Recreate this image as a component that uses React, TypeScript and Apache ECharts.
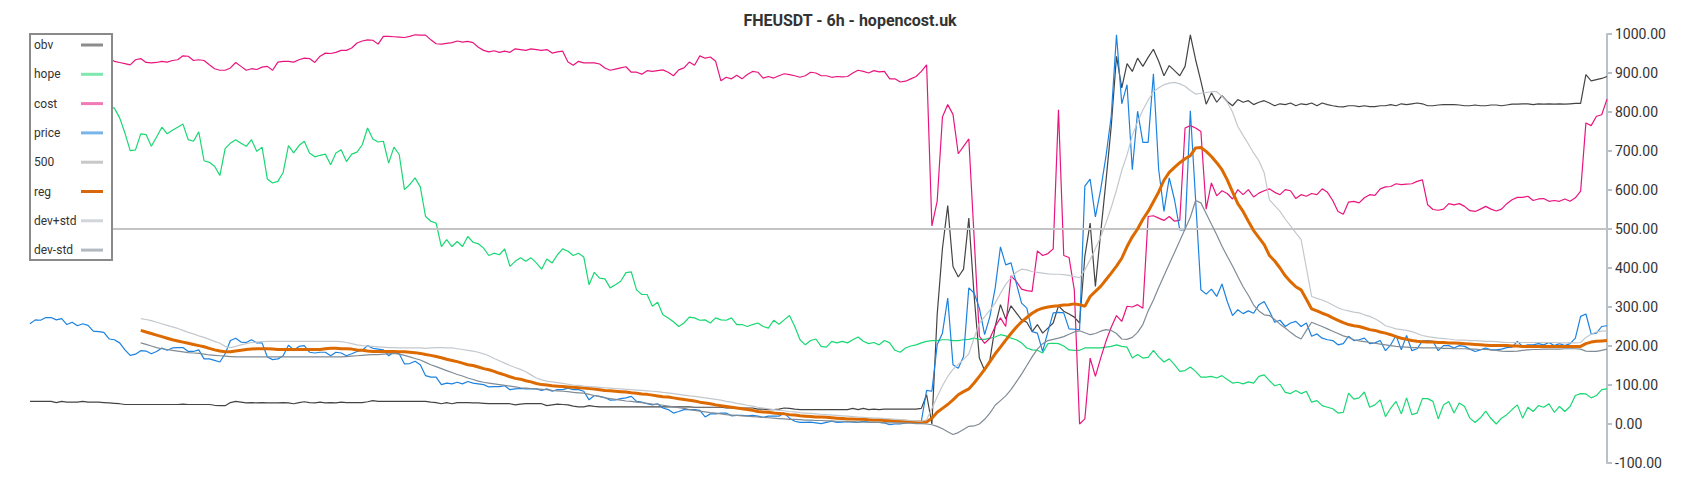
import React, { useEffect, useRef } from "react";
import * as echarts from "echarts";

const TITLE = "FHEUSDT - 6h - hopencost.uk";
const seriesNames = ["obv", "hope", "cost", "price", "500", "reg", "dev+std", "dev-std"];
const yTicks = { min: -100, max: 1000, interval: 100 };
const LEVEL = 500;

const price = [
  257, 267, 266, 273, 273, 267, 270, 255, 261, 252,
  257, 253, 238, 237, 235, 218, 216, 208, 190, 176,
  179, 188, 187, 180, 186, 195, 189, 195, 196, 196,
  186, 186, 190, 167, 167, 163, 159, 180, 214, 220,
  210, 209, 216, 208, 208, 172, 165, 167, 175, 202,
  190, 199, 201, 184, 182, 184, 184, 175, 184, 182,
  175, 180, 186, 189, 201, 194, 192, 190, 175, 184,
  180, 154, 155, 161, 152, 124, 120, 120, 101, 105,
  103, 107, 103, 109, 105, 103, 101, 95, 96, 96,
  98, 88, 90, 91, 90, 90, 90, 86, 90, 84,
  88, 88, 92, 88, 88, 84, 62, 73, 71, 68,
  61, 62, 65, 67, 71, 58, 56, 52, 49, 52,
  41, 37, 28, 32, 37, 37, 37, 35, 18, 26,
  26, 28, 28, 21, 22, 22, 21, 22, 20, 17,
  20, 20, 20, 28, 15, 7, 4, 4, 5, 3,
  1, 4, 7, 4, 5, 6, 5, 4, 7, 5,
  4, 4, 3, -2, 0, 0, 3, 4, 5, 7,
  86, 84, 203, 233, 323, 152, 143, 173, 349, 336,
  297, 229, 276, 349, 454, 408, 413, 361, 310, 297,
  237, 233, 186, 237, 285, 286, 285, 244, 243, 242,
  610, 628, 531, 601, 686, 789, 998, 821, 870, 652,
  802, 722, 722, 898, 652, 545, 631, 575, 498, 498,
  803, 575, 344, 333, 346, 327, 359, 314, 278, 293,
  283, 290, 284, 306, 314, 289, 261, 266, 250, 259,
  263, 250, 259, 225, 231, 220, 216, 214, 203, 206,
  225, 214, 216, 220, 206, 208, 214, 188, 203, 227,
  190, 227, 188, 193, 213, 214, 212, 188, 201, 201,
  195, 201, 199, 192, 186, 190, 195, 190, 190, 192,
  196, 197, 212, 199, 203, 203, 206, 203, 209, 201,
  206, 201, 206, 220, 276, 282, 231, 233, 250, 252,
];

const cost = [
  950, 946, 942, 944, 938, 942, 946, 940, 936, 940,
  944, 938, 934, 938, 942, 938, 930, 927, 924, 921,
  934, 937, 927, 926, 927, 930, 928, 932, 934, 944,
  943, 932, 934, 932, 921, 911, 907, 907, 913, 927,
  917, 907, 911, 909, 915, 917, 907, 928, 930, 930,
  928, 934, 938, 937, 927, 943, 951, 950, 953, 958,
  958, 964, 977, 982, 985, 984, 974, 994, 994, 993,
  992, 991, 994, 998, 997, 997, 985, 975, 974, 976,
  978, 982, 979, 981, 978, 966, 958, 954, 957, 953,
  956, 953, 962, 960, 958, 962, 960, 958, 960, 951,
  954, 956, 928, 920, 930, 926, 926, 926, 923, 913,
  907, 910, 913, 916, 902, 902, 897, 906, 904, 906,
  908, 902, 893, 908, 913, 928, 920, 944, 938, 941,
  930, 880, 889, 885, 894, 885, 896, 904, 902, 887,
  891, 887, 893, 898, 896, 893, 889, 893, 902, 900,
  893, 893, 889, 891, 890, 891, 900, 907, 904, 900,
  906, 903, 904, 885, 885, 877, 879, 885, 891, 904,
  921, 508, 571, 787, 819, 794, 693, 712, 731, 480,
  225, 207, 220, 250, 272, 250, 380, 366, 346, 342,
  340, 444, 432, 437, 449, 806, 432, 427, 344, 0,
  13, 169, 122, 169, 212, 248, 278, 263, 302, 300,
  306, 297, 532, 534, 528, 522, 532, 520, 522, 759,
  765, 759, 750, 551, 618, 585, 598, 591, 577, 601,
  588, 601, 582, 592, 598, 603, 594, 588, 601, 598,
  578, 588, 584, 591, 588, 603, 594, 573, 545, 538,
  569, 571, 567, 580, 588, 586, 603, 608, 609, 616,
  614, 615, 616, 622, 626, 562, 550, 548, 551, 565,
  562, 565, 558, 547, 545, 551, 558, 551, 546, 551,
  565, 575, 581, 581, 584, 573, 577, 578, 571, 573,
  571, 577, 571, 580, 597, 772, 765, 789, 793, 833,
];

const hope = [
  830, 835, 828, 832, 825, 830, 826, 832, 828, 824,
  830, 826, 822, 820, 818, 813, 810, 785, 746, 701,
  703, 744, 742, 712, 736, 761, 744, 753, 761, 769,
  729, 725, 749, 675, 671, 661, 637, 706, 720, 729,
  720, 712, 729, 699, 710, 628, 618, 622, 645, 714,
  695, 714, 725, 695, 685, 689, 692, 665, 695, 703,
  673, 692, 697, 716, 759, 731, 723, 725, 669, 710,
  691, 601, 614, 631, 608, 532, 520, 515, 455, 473,
  455, 468, 455, 481, 466, 462, 451, 432, 438, 434,
  449, 404, 417, 426, 417, 426, 413, 397, 423, 413,
  434, 449, 443, 432, 438, 428, 357, 389, 374, 372,
  349, 357, 366, 388, 390, 344, 332, 332, 302, 312,
  280, 272, 262, 250, 259, 274, 272, 266, 267, 259,
  272, 267, 266, 272, 255, 255, 250, 255, 259, 250,
  246, 266, 256, 267, 278, 250, 216, 203, 214, 218,
  199, 197, 212, 208, 212, 208, 216, 223, 212, 206,
  209, 203, 214, 208, 189, 184, 195, 200, 203, 208,
  212, 214, 214, 216, 216, 214, 214, 216, 217, 220,
  217, 217, 220, 223, 229, 226, 220, 216, 208, 195,
  190, 189, 182, 206, 207, 206, 200, 190, 189, 189,
  195, 195, 195, 195, 197, 199, 203, 199, 197, 169,
  178, 169, 171, 189, 172, 159, 167, 152, 135, 137,
  146, 135, 120, 120, 122, 118, 124, 114, 105, 107,
  103, 108, 105, 122, 126, 111, 98, 102, 81, 78,
  86, 78, 84, 56, 60, 47, 43, 39, 28, 30,
  79, 64, 67, 82, 43, 49, 62, 19, 41, 58,
  26, 67, 24, 28, 65, 65, 58, 13, 49, 58,
  28, 54, 45, 15, 4, 16, 33, 14, 0, 15,
  24, 37, 49, 15, 43, 32, 47, 43, 52, 30,
  45, 32, 45, 73, 78, 77, 67, 73, 88, 90,
];

const obv = [
  58, 58, 58, 58, 58, 55, 58, 56, 56, 56,
  58, 56, 56, 56, 55, 54, 53, 52, 50, 50,
  50, 50, 50, 50, 50, 50, 50, 50, 50, 51,
  50, 50, 50, 50, 50, 48, 47, 47, 55, 58,
  56, 54, 55, 54, 55, 54, 54, 54, 55, 54,
  52, 55, 57, 55, 54, 56, 54, 55, 54, 56,
  55, 55, 55, 55, 57, 60, 58, 58, 58, 58,
  58, 58, 58, 58, 58, 58, 56, 55, 52, 55,
  52, 55, 55, 55, 54, 54, 53, 52, 52, 52,
  52, 52, 49, 51, 52, 52, 52, 52, 47, 49,
  51, 50, 49, 46, 44, 44, 47, 45, 44, 44,
  44, 44, 44, 44, 44, 44, 44, 44, 44, 44,
  44, 44, 44, 44, 44, 44, 43, 43, 43, 43,
  43, 43, 41, 41, 41, 41, 41, 41, 38, 38,
  37, 37, 38, 41, 40, 38, 37, 37, 37, 37,
  37, 37, 37, 37, 37, 37, 40, 37, 40, 37,
  38, 37, 38, 38, 38, 38, 38, 38, 38, 40,
  75, 0, 280, 450, 560, 404, 377, 397, 528, 330,
  169, 137, 165, 250, 306, 269, 303, 285, 267, 261,
  237, 255, 233, 246, 259, 303, 289, 282, 274, 259,
  430, 515, 353, 490, 622, 763, 943, 862, 924, 904,
  938, 917, 940, 961, 930, 893, 919, 906, 893, 917,
  998, 934, 879, 820, 849, 825, 842, 827, 816, 832,
  825, 829, 819, 825, 829, 823, 816, 821, 819, 823,
  816, 821, 819, 823, 816, 823, 819, 816, 814, 813,
  816, 816, 814, 816, 814, 814, 816, 816, 819, 816,
  821, 819, 821, 823, 821, 816, 816, 818, 819, 819,
  819, 818, 816, 816, 818, 816, 816, 818, 818, 816,
  818, 820, 820, 821, 821, 819, 821, 820, 821, 820,
  821, 820, 821, 822, 822, 896, 880, 883, 886, 891,
];

const reg = [
  null, null, null, null, null, null, null, null, null, null,
  null, null, null, null, null, null, null, null, null, null,
  null, 240, 236, 232, 228, 224, 220, 216, 213, 210,
  207, 204, 201, 198, 194, 190, 187, 185, 185, 187,
  189, 191, 192, 193, 193, 193, 192, 191, 191, 191,
  191, 191, 191, 191, 191, 191, 193, 194, 194, 193,
  193, 192, 190, 189, 187, 186, 186, 186, 186, 186,
  185, 185, 184, 183, 181, 178, 176, 173, 170, 166,
  163, 160, 156, 152, 150, 146, 142, 139, 135, 130,
  126, 121, 117, 115, 111, 108, 104, 101, 100, 98,
  97, 96, 95, 94, 93, 92, 91, 90, 88, 86,
  85, 84, 83, 82, 80, 79, 77, 76, 74, 72,
  70, 69, 67, 65, 63, 61, 59, 56, 54, 52,
  49, 47, 45, 43, 41, 39, 37, 35, 32, 31,
  30, 28, 27, 26, 24, 23, 21, 20, 19, 18,
  18, 17, 16, 15, 14, 13, 13, 12, 12, 11,
  10, 10, 9, 9, 8, 7, 7, 6, 5, 5,
  5, 15, 30, 40, 50, 62, 75, 83, 90, 105,
  122, 140, 160, 180, 197, 215, 232, 248, 262, 273,
  284, 292, 297, 300, 302, 303, 305, 306, 308, 306,
  302, 327, 340, 353, 370, 387, 405, 425, 455, 480,
  500, 525, 545, 570, 595, 625, 645, 658, 670, 680,
  688, 708, 709, 699, 686, 670, 652, 626, 595, 565,
  545, 520, 496, 478, 460, 432, 418, 400, 380, 365,
  352, 344, 320, 295, 290, 284, 279, 272, 266, 260,
  255, 252, 250, 246, 242, 240, 236, 233, 229, 224,
  220, 217, 214, 212, 211, 210, 210, 209, 209, 208,
  208, 207, 206, 205, 204, 203, 202, 201, 201, 201,
  201, 200, 200, 199, 199, 199, 199, 199, 199, 199,
  199, 199, 199, 199, 199, 206, 210, 212, 213, 214,
];

const devUp = [
  null, null, null, null, null, null, null, null, null, null,
  null, null, null, null, null, null, null, null, null, null,
  null, 270, 268, 265, 261, 257, 253, 249, 245, 240,
  235, 231, 226, 222, 217, 212, 207, 199, 196, 199,
  203, 206, 209, 210, 211, 212, 212, 212, 212, 212,
  212, 212, 212, 212, 212, 212, 212, 212, 212, 211,
  209, 206, 203, 201, 200, 199, 198, 197, 196, 196,
  195, 195, 195, 195, 195, 194, 195, 196, 196, 195,
  195, 193, 191, 189, 187, 184, 180, 175, 168, 162,
  156, 150, 145, 140, 134, 126, 118, 113, 110, 108,
  106, 104, 102, 100, 99, 97, 96, 95, 94, 93,
  92, 91, 90, 89, 88, 87, 86, 85, 84, 83,
  81, 80, 78, 76, 74, 72, 71, 69, 67, 65,
  63, 61, 58, 56, 53, 51, 48, 46, 43, 41,
  39, 37, 35, 34, 32, 31, 29, 28, 27, 26,
  25, 24, 23, 22, 21, 20, 19, 18, 17, 16,
  15, 15, 14, 13, 12, 11, 10, 9, 8, 7,
  11, 40, 70, 98, 122, 140, 153, 165, 180, 220,
  259, 275, 292, 310, 335, 358, 375, 389, 397, 395,
  391, 389, 387, 385, 384, 384, 383, 381, 378, 375,
  395, 421, 450, 480, 515, 555, 600, 650, 690, 740,
  775, 805, 830, 852, 862, 870, 874, 876, 872, 866,
  855, 846, 848, 850, 852, 852, 840, 825, 800, 763,
  740, 718, 695, 675, 644, 575, 560, 545, 525, 508,
  490, 473, 400, 327, 322, 318, 312, 305, 298, 293,
  290, 287, 285, 280, 276, 270, 262, 252, 248, 244,
  242, 240, 237, 232, 227, 224, 222, 220, 219, 218,
  216, 215, 215, 214, 214, 213, 212, 212, 211, 210,
  209, 209, 209, 209, 209, 209, 209, 209, 209, 209,
  208, 208, 208, 208, 209, 222, 230, 236, 238, 239,
];

const devDown = [
  null, null, null, null, null, null, null, null, null, null,
  null, null, null, null, null, null, null, null, null, null,
  null, 208, 204, 200, 196, 193, 191, 189, 187, 185,
  183, 182, 181, 179, 177, 176, 175, 174, 173, 172,
  172, 172, 172, 172, 172, 172, 172, 172, 172, 172,
  172, 172, 172, 172, 172, 172, 172, 172, 172, 172,
  173, 174, 175, 176, 177, 178, 178, 179, 180, 181,
  179, 176, 172, 168, 164, 158, 152, 147, 142, 137,
  132, 127, 123, 118, 114, 110, 107, 105, 103, 101,
  99, 97, 95, 93, 92, 91, 90, 89, 88, 86,
  85, 84, 83, 81, 80, 79, 76, 73, 70, 67,
  65, 63, 61, 59, 58, 56, 55, 53, 51, 50,
  48, 46, 44, 42, 40, 37, 35, 33, 31, 29,
  28, 26, 24, 23, 22, 21, 20, 19, 18, 17,
  16, 15, 14, 13, 12, 12, 11, 10, 10, 9,
  9, 8, 8, 7, 7, 6, 6, 5, 5, 5,
  4, 4, 3, 3, 3, 2, 2, 2, 1, 1,
  0, -2, -6, -12, -20, -27, -22, -14, -6, -5,
  0, 12, 28, 48, 60, 72, 88, 108, 128, 150,
  172, 192, 206, 214, 217, 220, 224, 230, 236, 239,
  234, 229, 232, 238, 242, 240, 232, 218, 217, 222,
  235, 255, 290, 318, 350, 380, 410, 440, 470, 500,
  530, 573, 567, 540, 512, 485, 456, 430, 405, 378,
  352, 330, 305, 290, 280, 278, 268, 256, 246, 235,
  225, 218, 240, 261, 255, 250, 244, 238, 232, 226,
  222, 216, 213, 211, 209, 207, 205, 203, 201, 199,
  198, 197, 196, 196, 195, 195, 195, 195, 194, 194,
  193, 193, 193, 192, 192, 191, 191, 190, 189, 187,
  186, 186, 187, 189, 190, 191, 191, 192, 192, 192,
  192, 193, 193, 193, 192, 187, 186, 186, 189, 192,
];

const categories = price.map((_, i) => String(i + 1));
const level500 = price.map(() => LEVEL);

const lineColors = ["#444444", "#19d873", "#e8157f", "#1c82e0", "#c4c4c4", "#dd6a00", "#c3c8cd", "#808b95"];
const legendColors = ["#8c8c8c", "#7ee8ae", "#ef7ab6", "#79b4ea", "#c8c8c8", "#d8660a", "#d2d6da", "#b2b9c0"];
const lineWidths = [1.2, 1.2, 1.2, 1.2, 2, 3, 1.2, 1.2];
const seriesData = [obv, hope, cost, price, level500, reg, devUp, devDown];

export default function App() {
  const ref = useRef<HTMLDivElement>(null);
  useEffect(() => {
    document.body.style.margin = "0";
    if (!ref.current) return;
    const chart = echarts.init(ref.current, null, { renderer: "svg" });
    const option = {
      animation: false,
      backgroundColor: "#ffffff",
      textStyle: { fontFamily: "Roboto" },
      title: {
        text: TITLE,
        left: "center",
        top: 12,
        padding: 0,
        textStyle: { fontSize: 16, fontWeight: "bold", color: "#333", fontFamily: "Roboto" },
      },
      legend: {
        orient: "vertical",
        left: 30,
        top: 34,
        align: "right",
        icon: "rect",
        itemWidth: 22,
        itemHeight: 3,
        itemGap: 17.3,
        padding: [5, 9, 4, 4],
        backgroundColor: "#ffffff",
        borderColor: "#8a8a8a",
        borderWidth: 2,
        formatter: (name: string) => `{t|${name}}`,
        textStyle: {
          fontSize: 12,
          color: "#333",
          fontFamily: "Roboto",
          rich: { t: { width: 42, align: "left", fontSize: 12, color: "#333", fontFamily: "Roboto" } },
        },
        data: seriesNames.map((n, i) => ({ name: n, itemStyle: { color: legendColors[i] } })),
      },
      grid: { left: 30, right: 93, top: 34, bottom: 37, containLabel: false },
      xAxis: { type: "category", data: categories, boundaryGap: false, show: false },
      yAxis: {
        type: "value",
        position: "right",
        min: yTicks.min,
        max: yTicks.max,
        interval: yTicks.interval,
        splitLine: { show: false },
        axisLine: { show: true, lineStyle: { color: "#b8c0c8", width: 2 } },
        axisTick: { show: true, length: 5, lineStyle: { color: "#b8c0c8", width: 2 } },
        axisLabel: {
          margin: 8,
          fontSize: 14,
          color: "#333",
          fontFamily: "Roboto",
          formatter: (v: number) => v.toFixed(2),
        },
      },
      series: seriesNames.map((n, i) => ({
        name: n,
        type: "line",
        data: seriesData[i],
        symbol: "none",
        showSymbol: false,
        connectNulls: false,
        color: lineColors[i],
        lineStyle: { color: lineColors[i], width: lineWidths[i] },
      })),
    };
    chart.setOption(option as any);
    return () => chart.dispose();
  }, []);
  return <div ref={ref} style={{ width: 1700, height: 500 }} />;
}
